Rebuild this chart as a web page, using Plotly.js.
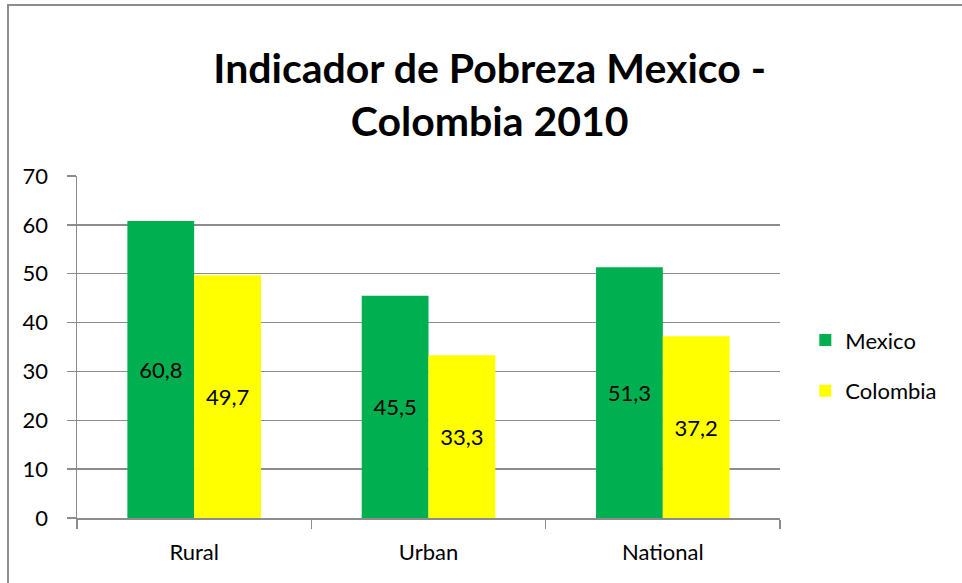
<!DOCTYPE html>
<html>
<head>
<meta charset="utf-8">
<script src="https://cdn.plot.ly/plotly-3.0.1.min.js"></script>
<style>
  html, body { margin: 0; padding: 0; background: #fff; }
  #wrap { position: relative; width: 962px; height: 583px; overflow: hidden; }
  #chart { width: 962px; height: 583px; }
  #frame { position: absolute; left: 7px; top: 4px; width: 1000px; height: 700px;
           border-left: 2px solid #8c8c8c; border-top: 2px solid #8c8c8c; pointer-events: none; }
</style>
</head>
<body>
<div id="wrap">
  <div id="chart"></div>
  <div id="frame"></div>
</div>
<script>
const categories = ["Rural", "Urban", "National"];
const mexico = [60.8, 45.5, 51.3];
const colombia = [49.7, 33.3, 37.2];
const yTicks = [0, 10, 20, 30, 40, 50, 60, 70];

const FONT = "Lato, 'Open Sans', 'DejaVu Sans', sans-serif";

const traces = [
  {
    type: "bar", name: "Mexico", x: categories, y: mexico,
    marker: { color: "#00B050" },
    texttemplate: "%{y:.1f}", textposition: "inside", insidetextanchor: "middle",
    textangle: 0, textfont: { color: "#000", size: 22, family: FONT },
    hoverinfo: "skip", legendgroup: "a"
  },
  {
    type: "bar", name: "Colombia", x: categories, y: colombia,
    marker: { color: "#FFFF00" },
    texttemplate: "%{y:.1f}", textposition: "inside", insidetextanchor: "middle",
    textangle: 0, textfont: { color: "#000", size: 22, family: FONT },
    hoverinfo: "skip", legendgroup: "b"
  }
];

const layout = {
  width: 962, height: 583,
  margin: { l: 77, r: 182, t: 176, b: 65 },
  paper_bgcolor: "#fff", plot_bgcolor: "#fff",
  separators: ",.",
  font: { family: FONT, size: 22, color: "#000" },
  title: {
    text: "<b>Indicador de Pobreza Mexico -<br>Colombia 2010</b>",
    font: { family: FONT, size: 41, color: "#000" },
    xref: "container", x: 0.509, xanchor: "center",
    yref: "container", y: 1 - 83 / 583, yanchor: "middle"
  },
  barmode: "group", bargap: 0.43, bargroupgap: 0,
  showlegend: true,
  legend: {
    x: 1.036, xanchor: "left", y: 0.445, yanchor: "middle",
    font: { family: FONT, size: 22, color: "#000" },
    traceorder: "grouped", tracegroupgap: 19,
    bgcolor: "rgba(0,0,0,0)"
  },
  xaxis: {
    type: "category", tickson: "boundaries",
    showline: true, linecolor: "#8c8c8c", linewidth: 1.5,
    ticks: "outside", ticklen: 9, tickcolor: "#8c8c8c", tickwidth: 1.5,
    showgrid: false, zeroline: false,
    tickfont: { family: FONT, size: 22, color: "#000" },
    ticklabelstandoff: 14,
    fixedrange: true
  },
  yaxis: {
    range: [0, 70], tickmode: "array", tickvals: yTicks, ticktext: yTicks.map(String),
    showline: true, linecolor: "#8c8c8c", linewidth: 1.5,
    ticks: "outside", ticklen: 9, tickcolor: "#8c8c8c", tickwidth: 1.5,
    showgrid: true, gridcolor: "#8c8c8c", gridwidth: 1.5,
    zeroline: false,
    tickfont: { family: FONT, size: 22, color: "#000" },
    ticklabelstandoff: 14,
    fixedrange: true
  }
};

Plotly.newPlot("chart", traces, layout, { displayModeBar: false, staticPlot: true });
</script>
</body>
</html>
